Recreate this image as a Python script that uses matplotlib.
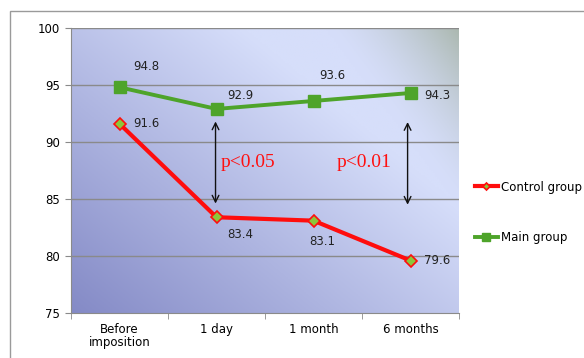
import numpy as np
import matplotlib.pyplot as plt
from matplotlib.patches import Rectangle

categories = ["Before\nimposition", "1 day", "1 month", "6 months"]
control = [91.6, 83.4, 83.1, 79.6]
main = [94.8, 92.9, 93.6, 94.3]
yticks = [75, 80, 85, 90, 95, 100]

# label offsets in points (dx, dy, ha, va)
control_offsets = [(10, 0, "left", "center"), (8, -8, "left", "top"),
                   (6, -10, "center", "top"), (10, 0, "left", "center")]
main_offsets = [(10, 10, "left", "bottom"), (8, 5, "left", "bottom"),
                (4, 14, "left", "bottom"), (10, -2, "left", "center")]

fig = plt.figure(figsize=(5.84, 3.58), dpi=100)
ax = fig.add_axes([71 / 584, 1 - 313 / 358, 388 / 584, 285 / 358])

# gradient background: dark bottom-left, light top-right, greenish corner
nx, ny = 200, 150
gx, gy = np.meshgrid(np.linspace(0, 1, nx), np.linspace(0, 1, ny))
t = np.clip((gx * 0.9 + gy * 0.8) / 1.2, 0, 1)
dark = np.array([0x84, 0x8a, 0xc6]) / 255
light = np.array([0xd6, 0xde, 0xfa]) / 255
img = dark[None, None, :] * (1 - t[..., None]) + light[None, None, :] * t[..., None]
corner = np.clip(((gx - 0.78) / 0.22) * 0.55 + ((gy - 0.6) / 0.4) * 0.55 - 0.25, 0, 1) ** 1.5
green = np.array([0xa0, 0xae, 0x9c]) / 255
img = img * (1 - corner[..., None]) + green[None, None, :] * corner[..., None]
ax.imshow(img, extent=[-0.5, 3.5, 75, 100], origin="lower", aspect="auto", zorder=0)

for y in yticks[1:]:
    ax.axhline(y, color="#8a8a8a", lw=1, zorder=1)

x = np.arange(len(categories))
ax.plot(x, main, color="#4ea42a", lw=2.8, marker="s", ms=8.5,
        mfc="#4ea42a", mec="#4ea42a", zorder=3, label="Main group")
ax.plot(x, control, color="#ff0d0d", lw=3, marker="D", ms=6,
        mfc="#8cc63a", mec="#ff0d0d", mew=1.2, zorder=4, label="Control group")

for xi, v, (dx, dy, ha, va) in zip(x, control, control_offsets):
    ax.annotate(f"{v}", (xi, v), xytext=(dx, dy), textcoords="offset points",
                ha=ha, va=va, fontsize=8.5, color="#222222")
for xi, v, (dx, dy, ha, va) in zip(x, main, main_offsets):
    ax.annotate(f"{v}", (xi, v), xytext=(dx, dy), textcoords="offset points",
                ha=ha, va=va, fontsize=8.5, color="#222222")

# significance arrows
for xi, top, bot in [(0.99, 91.8, 84.6), (2.97, 91.75, 84.5)]:
    ax.annotate("", xy=(xi, top), xytext=(xi, bot),
                arrowprops=dict(arrowstyle="<->", color="#111111", lw=1,
                                mutation_scale=12, shrinkA=0, shrinkB=0),
                zorder=5)
ax.text(1.04, 88.2, "p<0.05", color="#ff1010", fontsize=14,
        family="Liberation Serif", ha="left", va="center")
ax.text(2.24, 88.2, "p<0.01", color="#ff1010", fontsize=14,
        family="Liberation Serif", ha="left", va="center")

ax.set_xlim(-0.5, 3.5)
ax.set_ylim(75, 100)
ax.set_yticks(yticks)
ax.set_xticks(x)
ax.set_xticklabels(categories, fontsize=8.5, linespacing=1.0)
ax.set_xticks([-0.5, 0.5, 1.5, 2.5, 3.5], minor=True)
ax.tick_params(axis="x", which="major", length=0, pad=7)
ax.tick_params(axis="x", which="minor", length=4, color="#8a8a8a")
ax.tick_params(axis="y", length=4, color="#8a8a8a", labelsize=8.5, pad=4)
for s in ["top", "right"]:
    ax.spines[s].set_visible(False)
for s in ["left", "bottom"]:
    ax.spines[s].set_color("#8a8a8a")

handles, labels = ax.get_legend_handles_labels()
fig.legend(handles[::-1], labels[::-1], loc="upper left",
           bbox_to_anchor=(464 / 584, 1 - 170 / 358), frameon=False,
           fontsize=8.5, labelspacing=3.2, handlelength=2.0, handletextpad=0.2,
           markerscale=0.6)

# outer chart border
fig.add_artist(Rectangle((10 / 584, -0.05), 1.0, 1 - 11 / 358 + 0.05,
                         transform=fig.transFigure, fill=False,
                         ec="#9a9a9a", lw=1))

fig.savefig("out.png", dpi=100)
